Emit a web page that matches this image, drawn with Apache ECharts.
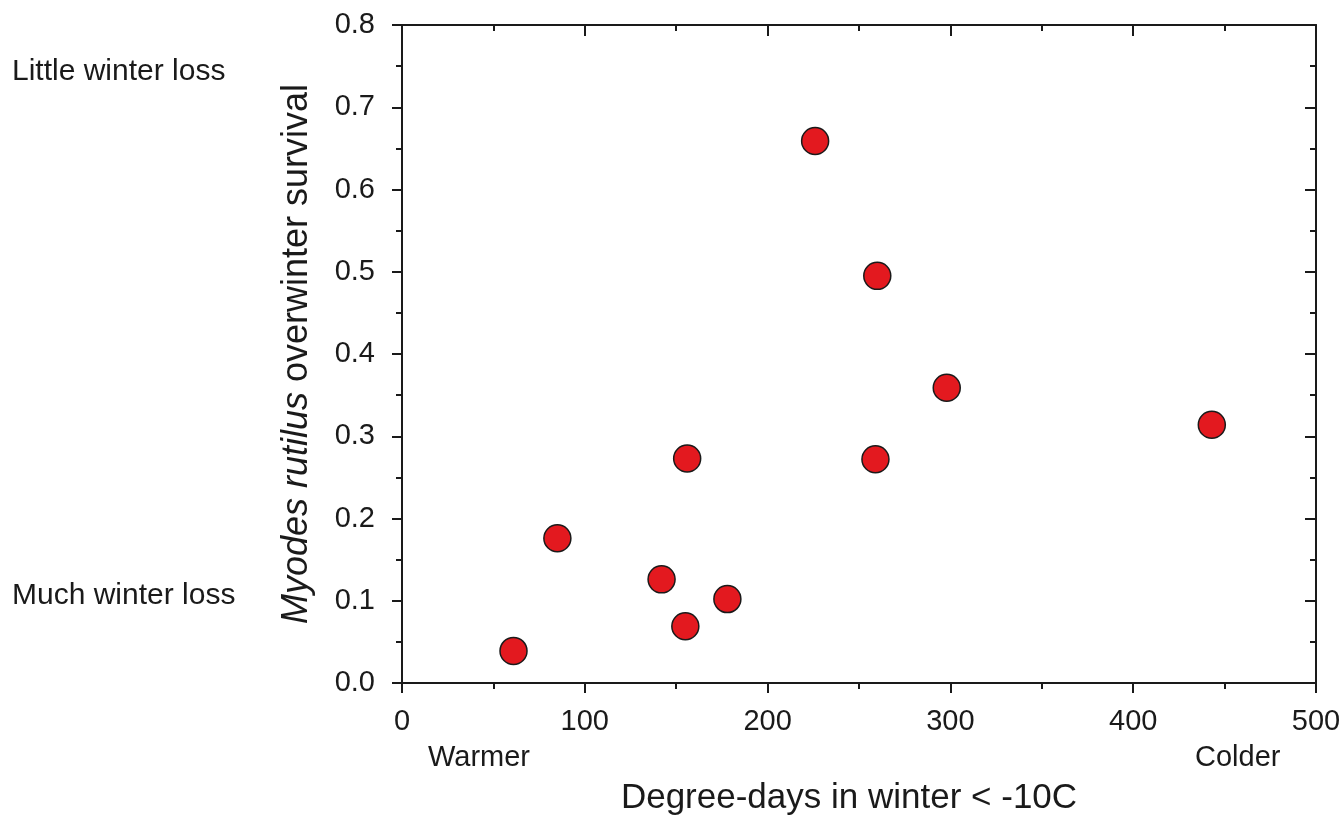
<!DOCTYPE html>
<html>
<head>
<meta charset="utf-8">
<script src="https://cdn.jsdelivr.net/npm/echarts@6/dist/echarts.min.js"></script>
<style>
html,body{margin:0;padding:0;background:#fff;}
#chart{width:1344px;height:821px;}
</style>
</head>
<body>
<div id="chart"></div>
<script>
// Data
var degreeDays = [61, 85, 142, 155, 156, 178, 226, 260, 259, 298, 443];
var survival   = [0.039, 0.176, 0.126, 0.069, 0.273, 0.102, 0.659, 0.495, 0.272, 0.359, 0.314];
var xTickLabels = ['0', '100', '200', '300', '400', '500'];
var yTickLabels = ['0.0', '0.1', '0.2', '0.3', '0.4', '0.5', '0.6', '0.7', '0.8'];

var points = degreeDays.map(function (d, i) { return [d, survival[i]]; });

var FONT = '"Liberation Sans", Arial, sans-serif';
var lineStyle = { color: '#1a1a1a', width: 2 };
var chart = echarts.init(document.getElementById('chart'));

function sideText(txt, x, y, size) {
  return { type: 'text', x: x, y: y,
    style: { text: txt, fill: '#1a1a1a', fontSize: size, fontFamily: FONT, verticalAlign: 'middle', align: 'left' } };
}

chart.setOption({
  backgroundColor: '#ffffff',
  animation: false,
  grid: { left: 402, right: 28, top: 25, bottom: 136, containLabel: false },
  xAxis: [{
    type: 'value', min: 0, max: 500, interval: 100, position: 'bottom',
    axisLine: { show: true, onZero: false, lineStyle: lineStyle },
    axisTick: { show: true, inside: false, length: 10, lineStyle: lineStyle },
    minorTick: { show: true, splitNumber: 2, length: 6, lineStyle: lineStyle },
    splitLine: { show: false },
    axisLabel: {
      margin: 24, color: '#1a1a1a', fontSize: 29, fontFamily: FONT,
      formatter: function (v) { var i = Math.round(v / 100); return xTickLabels[i]; }
    },
    name: 'Degree-days in winter < -10C', nameLocation: 'middle', nameGap: 98,
    nameTextStyle: { color: '#1a1a1a', fontSize: 35, fontFamily: FONT, padding: [0, 20, 0, 0] }
  }, {
    type: 'value', min: 0, max: 500, interval: 100, position: 'top',
    axisLine: { show: true, onZero: false, lineStyle: lineStyle },
    axisTick: { show: true, inside: true, length: 11, lineStyle: lineStyle },
    minorTick: { show: true, splitNumber: 2, length: 6, lineStyle: lineStyle },
    splitLine: { show: false }, axisLabel: { show: false }
  }],
  yAxis: [{
    type: 'value', min: 0, max: 0.8, interval: 0.1, position: 'left',
    axisLine: { show: true, onZero: false, lineStyle: lineStyle },
    axisTick: { show: true, inside: false, length: 10, lineStyle: lineStyle },
    minorTick: { show: true, splitNumber: 2, length: 6, lineStyle: lineStyle },
    splitLine: { show: false },
    axisLabel: {
      margin: 27, color: '#1a1a1a', fontSize: 29, fontFamily: FONT,
      formatter: function (v) { var i = Math.round(v * 10); return yTickLabels[i]; }
    },
    name: '{i|Myodes rutilus} overwinter survival',
    nameLocation: 'middle', nameRotate: 90, nameGap: 87,
    nameTextStyle: {
      color: '#1a1a1a', fontSize: 36, fontFamily: FONT,
      rich: { i: { fontStyle: 'italic', fontSize: 36, fontFamily: FONT, color: '#1a1a1a' } }
    }
  }, {
    type: 'value', min: 0, max: 0.8, interval: 0.1, position: 'right',
    axisLine: { show: true, onZero: false, lineStyle: lineStyle },
    axisTick: { show: true, inside: true, length: 11, lineStyle: lineStyle },
    minorTick: { show: true, splitNumber: 2, length: 6, lineStyle: lineStyle },
    splitLine: { show: false }, axisLabel: { show: false }
  }],
  graphic: [
    sideText('Little winter loss', 12, 72, 30),
    sideText('Much winter loss', 12, 596, 30),
    sideText('Warmer', 428, 758, 29),
    sideText('Colder', 1195, 758, 29)
  ],
  series: [{
    type: 'scatter', xAxisIndex: 0, yAxisIndex: 0,
    data: points, symbol: 'circle', symbolSize: 27,
    itemStyle: { color: '#e3191f', borderColor: '#1a1a1a', borderWidth: 1.5, opacity: 1 }
  }]
});
</script>
</body>
</html>
